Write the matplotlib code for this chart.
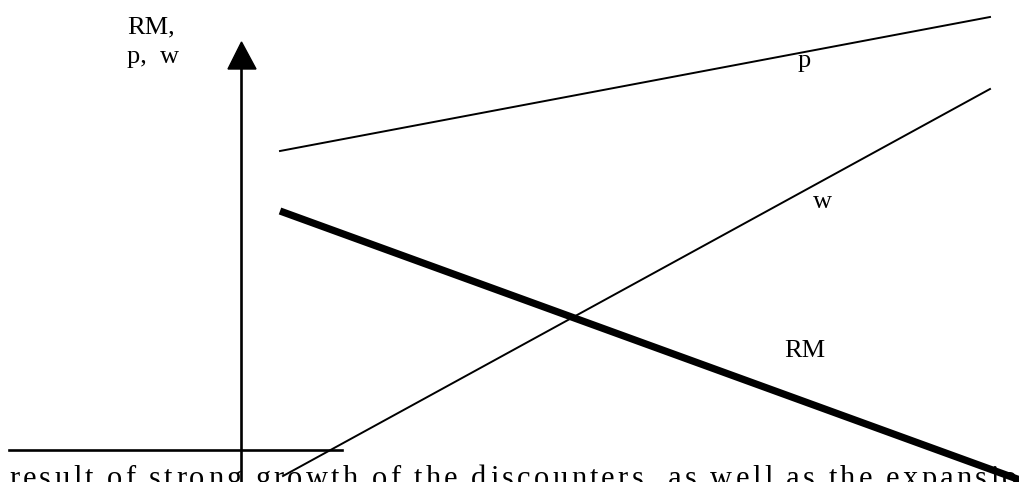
import matplotlib
matplotlib.use("Agg")
import matplotlib.pyplot as plt
from matplotlib.patches import Polygon

# diagram geometry, in picture pixels (y grows downwards)
p_x = [280, 990]
p_y = [151, 17]
w_x = [283, 990]
w_y = [476, 89]
rm_x = [280, 1020]
rm_y = [211, 480]

yaxis_x = [241, 241]
yaxis_y = [69, 482]
xaxis_x = [9, 342]
xaxis_y = [450, 450]
arrow_xy = [[241.5, 42], [228, 69], [256, 69]]

# body text under the figure (cut off at the bottom)
body = "result of strong growth of the discounters, as well as the expansion"

serif = "Liberation Serif"
fs = 19

fig = plt.figure(figsize=(10.2, 4.82), dpi=100)
ax = fig.add_axes([0, 0, 1, 1])
ax.set_xlim(0, 1020)
ax.set_ylim(482, 0)
ax.axis("off")

ax.plot(p_x, p_y, color="k", lw=1.4)
ax.plot(w_x, w_y, color="k", lw=1.4)
ax.plot(rm_x, rm_y, color="k", lw=5.2, solid_capstyle="butt")

ax.plot(yaxis_x, yaxis_y, color="k", lw=1.9)
ax.plot(xaxis_x, xaxis_y, color="k", lw=1.9)
ax.add_patch(Polygon(arrow_xy, closed=True, color="k"))

ax.text(127, 33, "RM,", family=serif, fontsize=fs, va="baseline")
ax.text(127, 63, "p,  w", family=serif, fontsize=fs, va="baseline")
ax.text(798, 67, "p", family=serif, fontsize=fs, va="baseline")
ax.text(813, 208, "w", family=serif, fontsize=fs, va="baseline")
ax.text(784, 357, "RM", family=serif, fontsize=fs, va="baseline")

# letter-spaced (justified) line: even tracking from x=9 to about x=1036
renderer = fig.canvas.get_renderer()
space_w = 7.0
chars, widths = [], []
for ch in body:
    if ch == " ":
        chars.append(None)
        widths.append(space_w)
        continue
    t = ax.text(9, 487, ch, family=serif, fontsize=22, va="baseline")
    chars.append(t)
    widths.append(t.get_window_extent(renderer).width)
track = (1036 - 9 - sum(widths)) / (len(body) - 1)
x = 9
for t, wd in zip(chars, widths):
    if t is not None:
        t.set_x(x)
    x += wd + track

fig.savefig("out.png", dpi=100)
